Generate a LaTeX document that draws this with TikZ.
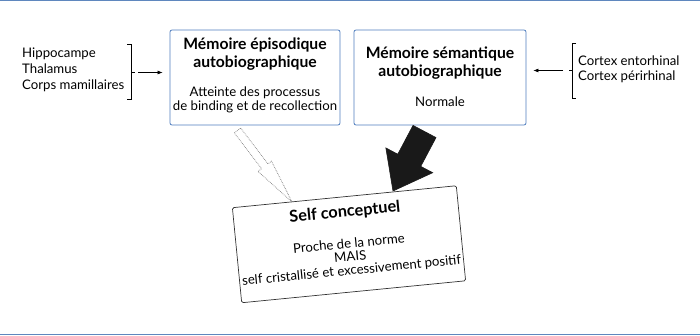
\documentclass[tikz,border=0pt]{standalone}
\usepackage{fontspec}
\setmainfont{Lato}
\usetikzlibrary{arrows.meta,calc}
\definecolor{frameblue}{RGB}{79,125,190}
\definecolor{rulebl}{RGB}{95,135,190}
\begin{document}
\begin{tikzpicture}[x=1pt,y=-1pt,
  memo/.style={draw=frameblue, line width=0.8pt, rounded corners=2pt, minimum height=95pt, inner sep=0pt},
  titletext/.style={font=\fontsize{15.7}{18}\selectfont\bfseries, inner sep=0pt, anchor=base},
  bodytext/.style={font=\fontsize{13.2}{14}\selectfont, inner sep=0pt, anchor=base},
  sidetext/.style={font=\fontsize{13.2}{16}\selectfont, inner sep=0pt, anchor=north west, align=left},
  smallarrow/.style={-{Latex[length=5pt,width=4pt]}, line width=0.7pt},
  bracket/.style={line width=0.6pt}]
\useasboundingbox (0,0) rectangle (700,336);
\draw[rulebl, line width=1.5pt] (0,0.75) -- (700,0.75);
\draw[rulebl, line width=1.5pt] (0,334.5) -- (700,334.5);

% boxes
\node[memo, minimum width=170pt] (epi) at (255,77.5) {};
\node[memo, minimum width=172pt] (sem) at (440,77.5) {};

\node[titletext] (epit1) at (255,50) {Mémoire épisodique};
\node[titletext] (epit2) at (255,67.7) {autobiographique};
\node[bodytext] (epib1) at (255,96.7) {Atteinte des processus};
\node[bodytext] (epib2) at (255,110.7) {de binding et de recollection};

\node[titletext] (semt1) at (440,59) {Mémoire sémantique};
\node[titletext] (semt2) at (440,77) {autobiographique};
\node[bodytext] (semb1) at (440,107) {Normale};

% left side
\node[sidetext] (lefttxt) at (22,47.4) {Hippocampe\\Thalamus\\Corps mamillaires};
\draw[bracket] (127,44) -- (131.5,44) -- (131.5,99) -- (127,99);
\draw[bracket] (131.5,72.5) -- (135,72.5);
\coordinate (la) at (138,72.5);
\draw[smallarrow, shorten >=7pt] (la) -- (epi.west |- la);

% right side
\node[sidetext, font=\fontsize{13.2}{15}\selectfont] (righttxt) at (578,55.4) {Cortex entorhinal\\Cortex périrhinal};
\draw[bracket] (576,43) -- (572.5,43) -- (572.5,98) -- (576,98);
\draw[bracket] (572.5,70.5) -- (569,70.5);
\coordinate (ra) at (563,70.5);
\draw[smallarrow, shorten >=7pt] (ra) -- (sem.east |- ra);

% self box
\begin{scope}[shift={(349,244.25)}, rotate=5.6, transform shape]
  \node[draw=black!80, line width=0.7pt, rounded corners=1.5pt, minimum width=225pt, minimum height=95.5pt, inner sep=0pt] (self) at (0,0) {};
  \node[font=\fontsize{16.3}{18}\selectfont\bfseries, inner sep=0pt] (selft) at (-1,-32) {Self conceptuel};
  \node[font=\fontsize{13.2}{13.5}\selectfont, inner sep=0pt, align=center] (selfb) at (0,13.4)
    {Proche de la norme\\MAIS\\self cristallisé et excessivement positif};
\end{scope}

% white (dotted) arrow
\coordinate (wt) at (237.5,130.5);
\coordinate (wp) at (292,202);
\coordinate (wb) at ($(wt)!45pt!(wp)$);
\draw[gray, densely dotted, line width=0.7pt, fill=white]
  ($(wt)!4pt!90:(wp)$) -- ($(wb)!4pt!90:(wp)$) -- ($(wb)!8.5pt!90:(wp)$) -- (wp)
  -- ($(wb)!8.5pt!-90:(wp)$) -- ($(wb)!4pt!-90:(wp)$) -- ($(wt)!4pt!-90:(wp)$) -- cycle;

% black arrow
\coordinate (bt) at (424.5,131.5);
\coordinate (bp) at (393,191);
\coordinate (bb) at ($(bt)!32.6pt!(bp)$);
\filldraw[black!90, line width=0.6pt, line join=miter]
  ($(bt)!13pt!90:(bp)$) -- ($(bb)!13pt!90:(bp)$) -- ($(bb)!26.5pt!90:(bp)$) -- (bp)
  -- ($(bb)!26.5pt!-90:(bp)$) -- ($(bb)!13pt!-90:(bp)$) -- ($(bt)!13pt!-90:(bp)$) -- cycle;
\end{tikzpicture}
\end{document}
